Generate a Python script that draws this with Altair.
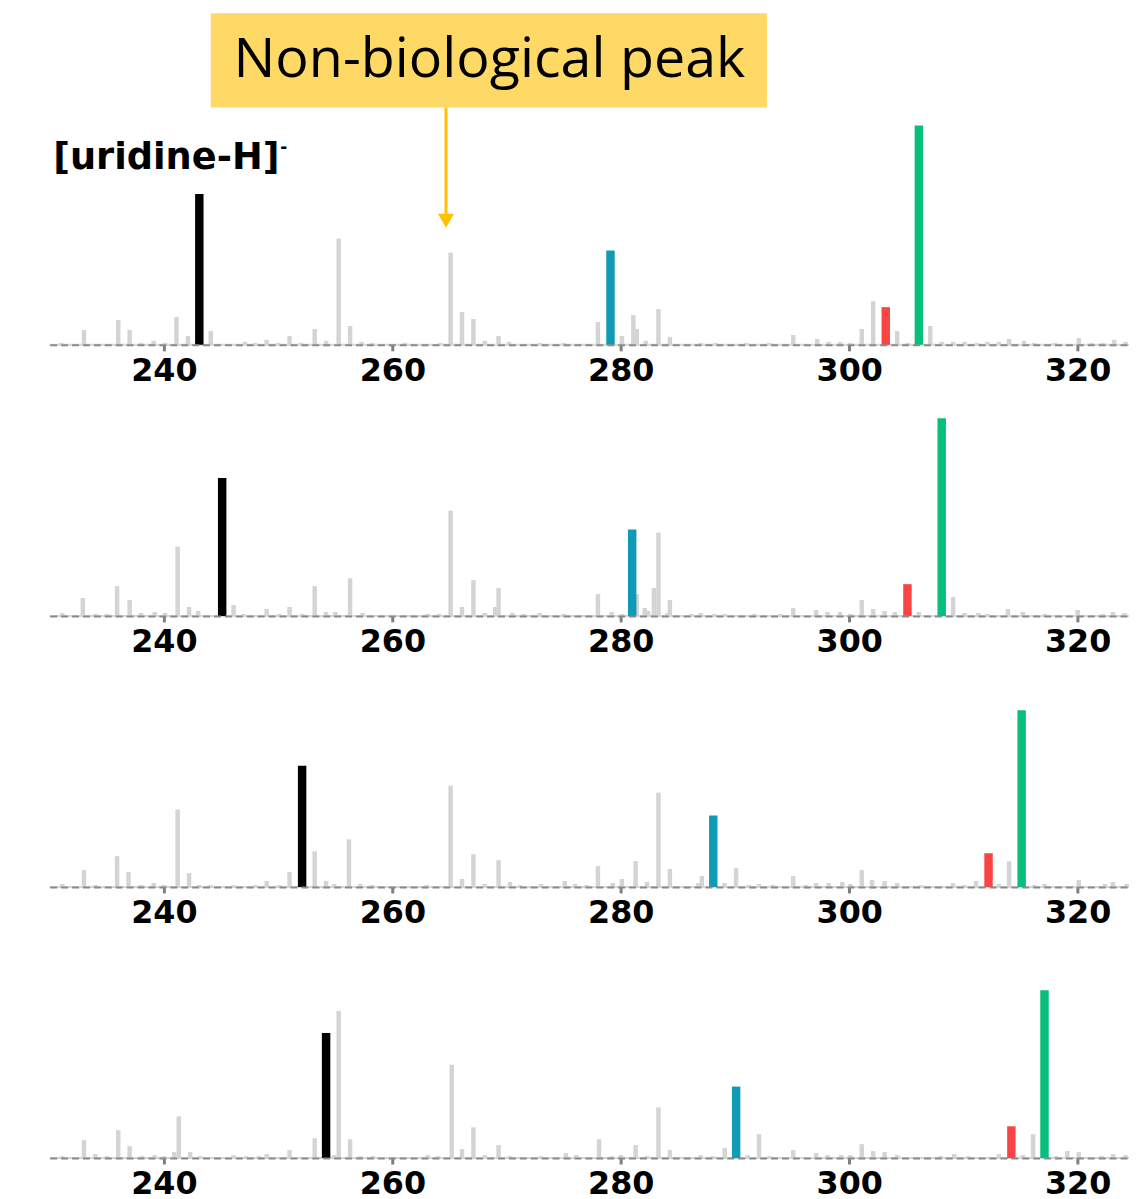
import altair as alt
import pandas as pd

# ---------------- data (m/z, intensity in arbitrary units) ----------------
peak_kinds = ["black", "blue", "red", "green"]
peak_colors = ["#000000", "#0f9ab5", "#fa4343", "#05bf7a"]
tick_values = [240, 260, 280, 300, 320]
x_domain = [230, 324.5]

# Panel 1
p1_gray_mz = [231.0, 233.0, 236.0, 237.0, 238.0, 239.1, 240.1, 241.1, 242.1, 244.1, 247.1, 248.0, 249.0,
              250.0, 251.0, 252.0, 253.2, 254.2, 255.3, 256.3, 257.3, 258.2, 261.1, 264.2, 265.1, 266.1,
              267.1, 268.1, 269.3, 270.2, 272.9, 275.0, 278.0, 280.1, 281.1, 281.4, 282.2, 283.3, 284.3,
              287.0, 288.3, 291.0, 293.0, 295.1, 297.2, 298.2, 299.2, 300.1, 301.1, 302.1, 304.2, 305.1,
              307.1, 308.1, 309.1, 310.1, 311.2, 312.1, 313.1, 314.0, 315.3, 316.2, 318.0, 320.1, 321.2,
              322.2, 323.2, 324.2]
p1_gray_int = [2, 15, 25, 15, 2, 4, 2, 28, 9, 14, 3, 2, 5,
               2, 9, 2, 16, 4, 107, 19, 3, 2, 2, 2, 93, 33,
               26, 4, 9, 3, 2, 2, 23, 9, 30, 16, 4, 36, 8,
               2, 2, 2, 2, 10, 6, 3, 3, 2, 16, 44, 14, 2,
               19, 3, 3, 3, 2, 3, 3, 6, 4, 2, 2, 7, 2,
               2, 5, 3]
p1_peak_mz = [243.1, 279.1, 303.2, 306.1]
p1_peak_int = [152, 95, 38, 221]

# Panel 2
p2_gray_mz = [231.1, 232.9, 234.0, 235.0, 235.9, 237.0, 238.0, 239.2, 240.1, 241.2, 242.2, 243.0, 246.1,
              247.0, 249.0, 250.1, 251.0, 252.1, 253.2, 254.2, 255.0, 256.3, 257.4, 263.1, 264.1, 265.1,
              266.1, 267.1, 268.1, 269.0, 269.3, 270.5, 271.5, 272.9, 275.0, 278.0, 279.2, 280.1, 281.4,
              282.1, 282.4, 282.9, 283.3, 284.1, 284.3, 286.2, 287.0, 288.2, 289.1, 291.7, 294.0, 295.1,
              297.1, 298.1, 299.2, 300.1, 301.1, 302.1, 303.1, 304.0, 306.1, 309.1, 310.1, 311.3, 312.1,
              313.9, 315.2, 317.1, 320.0, 322.2, 323.1, 324.1]
p2_gray_int = [3, 18, 2, 2, 30, 16, 3, 4, 3, 70, 9, 5, 11,
               2, 7, 2, 9, 2, 30, 4, 4, 38, 3, 2, 2, 106,
               9, 36, 3, 9, 28, 3, 2, 3, 2, 22, 4, 2, 22,
               8, 5, 28, 84, 3, 16, 2, 3, 2, 2, 2, 2, 8,
               6, 4, 4, 2, 16, 7, 5, 4, 4, 19, 3, 3, 2,
               7, 4, 2, 6, 2, 4, 3]
p2_peak_mz = [245.1, 281.0, 305.1, 308.1]
p2_peak_int = [139, 87, 32, 199]

# Panel 3
p3_gray_mz = [231.1, 233.0, 234.0, 235.9, 236.9, 238.0, 239.1, 240.0, 241.2, 242.2, 243.1, 244.1, 246.1,
              248.0, 249.0, 250.1, 251.0, 253.2, 254.2, 254.9, 256.2, 257.2, 258.2, 263.0, 265.1, 266.1,
              267.1, 268.1, 269.3, 270.3, 271.2, 273.0, 275.1, 276.0, 277.0, 278.0, 279.3, 280.1, 281.3,
              282.3, 283.3, 284.3, 286.8, 287.1, 289.1, 290.1, 291.2, 292.1, 293.3, 295.1, 296.2, 297.1,
              298.2, 299.4, 300.1, 301.1, 302.0, 303.1, 304.2, 306.3, 309.1, 310.1, 311.1, 313.1, 314.0,
              316.2, 317.1, 320.1, 322.4, 323.1, 324.3]
p3_gray_int = [3, 17, 2, 31, 15, 2, 4, 2, 78, 14, 2, 2, 2,
               2, 6, 2, 15, 36, 6, 3, 48, 3, 2, 2, 102, 8,
               33, 3, 27, 5, 2, 3, 6, 3, 2, 21, 4, 8, 26,
               5, 95, 18, 4, 11, 4, 19, 2, 3, 2, 11, 2, 4,
               4, 5, 3, 17, 7, 6, 4, 2, 4, 2, 6, 3, 26,
               2, 3, 7, 3, 5, 3]
p3_peak_mz = [252.1, 288.1, 312.2, 315.1]
p3_peak_int = [122, 72, 34, 178]

# Panel 4
p4_gray_mz = [231.1, 233.0, 234.0, 235.0, 236.0, 237.0, 238.1, 239.2, 240.0, 240.9, 241.3, 242.3, 243.2,
              246.1, 247.2, 248.3, 249.0, 251.0, 253.2, 254.9, 255.3, 256.3, 257.2, 258.3, 263.1, 264.0,
              265.2, 266.1, 267.1, 268.1, 269.3, 270.3, 273.0, 275.2, 276.1, 278.1, 279.2, 280.0, 281.3,
              282.3, 283.3, 284.3, 287.0, 288.1, 289.1, 291.1, 292.1, 293.0, 295.1, 297.1, 298.1, 299.3,
              300.1, 301.1, 302.1, 303.1, 304.2, 308.0, 309.2, 310.4, 313.1, 315.2, 316.1, 318.1, 319.1,
              320.1, 322.1, 323.1, 324.2]
p4_gray_int = [2, 18, 4, 2, 28, 12, 2, 3, 2, 6, 42, 6, 2,
               3, 2, 2, 4, 8, 20, 3, 148, 19, 2, 2, 3, 2,
               94, 9, 31, 3, 13, 2, 2, 5, 3, 19, 2, 3, 13,
               2, 51, 8, 3, 2, 10, 3, 24, 2, 8, 5, 3, 3,
               3, 14, 7, 6, 3, 2, 4, 2, 4, 3, 24, 2, 7,
               6, 2, 4, 3]
p4_peak_mz = [254.2, 290.1, 314.2, 317.1]
p4_peak_int = [126, 72, 32, 169]

# annotations (panel 1)
note_text = ["Non-biological peak"]
note_box_x = [244.1]
note_box_x2 = [292.8]
note_box_y = [239]
note_box_y2 = [334]
note_text_x = [268.5]
note_text_y = [287]
arrow_x = [264.7]
arrow_y = [239]
arrow_y2 = [132]
arrow_head_y = [125]
ion_label = ["[uridine-H]"]
ion_label_x = [230.3]
ion_label_y = [188]
ion_charge = ["-"]
ion_charge_x = [250.5]
ion_charge_y = [198]

# ---------------- layout ----------------
PLOT_W = 1087
H1 = 334
H = 220
GAP = 9


def xenc(field):
    return alt.X(
        field,
        scale=alt.Scale(domain=x_domain, nice=False, zero=False, padding=0),
        axis=alt.Axis(
            values=tick_values, format="d", title=None, grid=False, zindex=1,
            labelFont="DejaVu Sans", labelFontSize=32, labelFontWeight="bold",
            labelColor="black", labelPadding=5,
            tickColor="#7f7f7f", tickWidth=3, tickSize=6,
            domainColor="#8a8a8a", domainWidth=2, domainDash=[7, 4],
        ),
    )


def yenc(field, ymax):
    return alt.Y(field, scale=alt.Scale(domain=[0, ymax], nice=False, zero=True, padding=0), axis=None)


def panel(gray_mz, gray_int, peak_mz, peak_int, ymax, height, extra=()):
    g = pd.DataFrame({"mz": gray_mz, "intensity": gray_int})
    p = pd.DataFrame({"mz": peak_mz, "intensity": peak_int, "ion": peak_kinds})
    base = alt.Chart(pd.DataFrame({"mz": [x_domain[0]], "mz2": [x_domain[1]], "intensity": [0]})).mark_rule(
        color="#d6d6d6", strokeWidth=2
    ).encode(x=xenc("mz:Q"), x2="mz2:Q", y=yenc("intensity:Q", ymax))
    gray = alt.Chart(g).mark_bar(size=4.5, color="#d4d4d4").encode(
        x=xenc("mz:Q"), y=yenc("intensity:Q", ymax)
    )
    col = alt.Chart(p).mark_bar(size=8.5).encode(
        x=xenc("mz:Q"), y=yenc("intensity:Q", ymax),
        color=alt.Color("ion:N", scale=alt.Scale(domain=peak_kinds, range=peak_colors), legend=None),
    )
    return alt.layer(base, gray, col, *extra).properties(width=PLOT_W, height=height)


box = alt.Chart(pd.DataFrame({"x": note_box_x, "x2": note_box_x2, "y": note_box_y, "y2": note_box_y2})).mark_rect(
    color="#ffd966"
).encode(x=xenc("x:Q"), x2="x2:Q", y=yenc("y:Q", H1), y2="y2:Q")

box_text = alt.Chart(pd.DataFrame({"x": note_text_x, "y": note_text_y, "t": note_text})).mark_text(
    font="Open Sans", fontSize=56, color="black", align="center", baseline="middle"
).encode(x=xenc("x:Q"), y=yenc("y:Q", H1), text="t:N")

arrow = alt.Chart(pd.DataFrame({"x": arrow_x, "y": arrow_y, "y2": arrow_y2})).mark_rule(
    color="#ffc000", strokeWidth=3
).encode(x=xenc("x:Q"), y=yenc("y:Q", H1), y2="y2:Q")

arrow_head = alt.Chart(pd.DataFrame({"x": arrow_x, "y": arrow_head_y})).mark_point(
    shape="triangle-down", filled=True, size=260, color="#ffc000", opacity=1
).encode(x=xenc("x:Q"), y=yenc("y:Q", H1))

ion_text = alt.Chart(pd.DataFrame({"x": ion_label_x, "y": ion_label_y, "t": ion_label})).mark_text(
    font="DejaVu Sans", fontSize=37, fontWeight="bold", color="black", align="left", baseline="middle"
).encode(x=xenc("x:Q"), y=yenc("y:Q", H1), text="t:N")

ion_sup = alt.Chart(pd.DataFrame({"x": ion_charge_x, "y": ion_charge_y, "t": ion_charge})).mark_text(
    font="DejaVu Sans", fontSize=17, fontWeight="bold", color="black", align="center", baseline="middle"
).encode(x=xenc("x:Q"), y=yenc("y:Q", H1), text="t:N")

p1 = panel(p1_gray_mz, p1_gray_int, p1_peak_mz, p1_peak_int, H1, H1,
           extra=(box, box_text, arrow, arrow_head, ion_text, ion_sup))
p2 = panel(p2_gray_mz, p2_gray_int, p2_peak_mz, p2_peak_int, H, H)
p3 = panel(p3_gray_mz, p3_gray_int, p3_peak_mz, p3_peak_int, H, H)
p4 = panel(p4_gray_mz, p4_gray_int, p4_peak_mz, p4_peak_int, H, H)

chart = (
    alt.vconcat(p1, p2, p3, p4, spacing=GAP)
    .resolve_scale(y="independent")
    .properties(padding={"left": 40, "top": 0, "right": 0, "bottom": 0}, background="white")
    .configure_view(stroke="transparent")
)

chart.save("out.html", embed_options={"renderer": "svg", "actions": False})
